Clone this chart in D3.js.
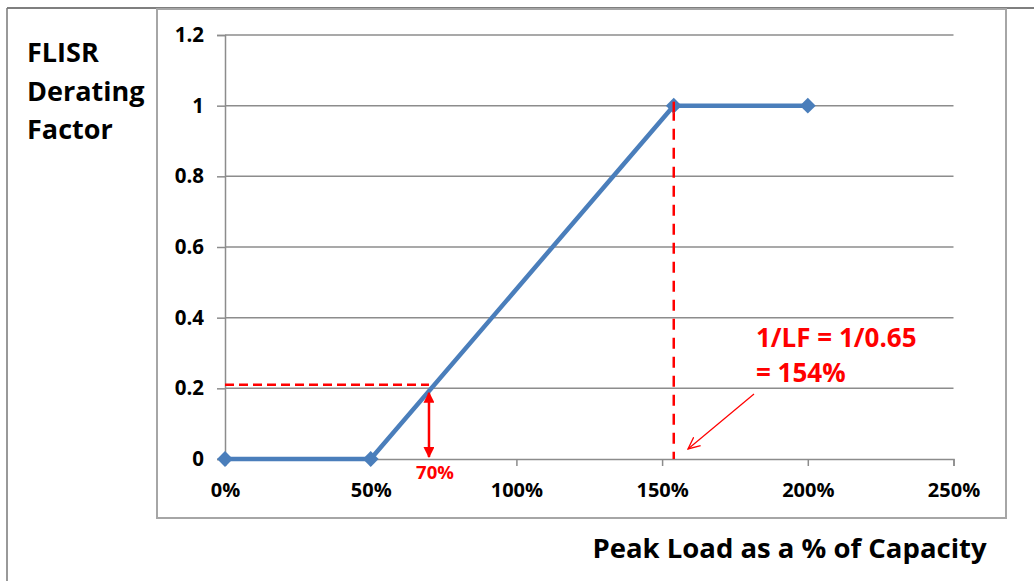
<!DOCTYPE html>
<html>
<head>
<meta charset="utf-8">
<script src="https://cdn.jsdelivr.net/npm/d3@7"></script>
<style>
  html, body { margin: 0; padding: 0; background: #fff; }
  svg { display: block; }
  text { font-family: "Open Sans", Lato, sans-serif; font-weight: 700; }
</style>
</head>
<body>
<svg id="chart" width="1034" height="581"></svg>
<script>
// ---- data ----
const loadPct = [0, 50, 154, 200];          // Peak load as % of capacity
const derating = [0, 0, 1, 1];              // FLISR derating factor
const xTickValues = [0, 50, 100, 150, 200, 250];
const yTickValues = [0, 0.2, 0.4, 0.6, 0.8, 1, 1.2];
const yTickLabels = ["0", "0.2", "0.4", "0.6", "0.8", "1", "1.2"];
const refLoad = 70;          // 70% marker
const refFactor = 0.21;      // horizontal dashed level
const refArrowTop = 0.19;    // factor at 70% on the curve
const lfLoad = 154;          // 1/LF = 154%
const yTitleLines = ["FLISR", "Derating", "Factor"];
const xTitle = "Peak Load as a % of Capacity";
const noteLines = ["1/LF = 1/0.65", "= 154%"];

// ---- layout ----
const svg = d3.select("#chart");
const x = d3.scaleLinear().domain([0, 250]).range([225, 953.5]);
const y = d3.scaleLinear().domain([0, 1.2]).range([459, 35]);
const grid = "#8c8c8c";
const red = "#ff0000";
const blue = "#4a7ebb";
const font = "'Open Sans', Lato, sans-serif";

// outer frame
svg.append("line").attr("x1", 7).attr("x2", 1034).attr("y1", 8).attr("y2", 8)
  .attr("stroke", "#555").attr("stroke-width", 1.5);
svg.append("line").attr("x1", 7).attr("x2", 7).attr("y1", 8).attr("y2", 581)
  .attr("stroke", "#777").attr("stroke-width", 1.5);
// chart box
svg.append("rect").attr("x", 157).attr("y", 9).attr("width", 849).attr("height", 509)
  .attr("fill", "#fff").attr("stroke", "#a6a6a6").attr("stroke-width", 2);

// gridlines
svg.append("g").selectAll("line").data(yTickValues.filter(d => d > 0)).join("line")
  .attr("x1", x(0)).attr("x2", x(250))
  .attr("y1", d => y(d)).attr("y2", d => y(d))
  .attr("stroke", grid).attr("stroke-width", 1.5);

// y axis
const yAxis = d3.axisLeft(y).tickValues(yTickValues)
  .tickFormat((d, i) => yTickLabels[i]).tickSize(8).tickPadding(13);
const gy = svg.append("g").attr("transform", `translate(${x(0)},0)`).call(yAxis);
gy.selectAll("path, line").attr("stroke", grid).attr("stroke-width", 1.5);
gy.selectAll("text").attr("font-size", 20.5).attr("fill", "#000")
  .attr("font-family", font).attr("font-weight", 700);

// x axis
const xAxis = d3.axisBottom(x).tickValues(xTickValues)
  .tickFormat(d => d + "%").tickSize(7).tickSizeOuter(7).tickPadding(17);
const gx = svg.append("g").attr("transform", `translate(0,${y(0)})`).call(xAxis);
gx.selectAll("path, line").attr("stroke", grid).attr("stroke-width", 1.5);
gx.selectAll("text").attr("font-size", 20).attr("fill", "#000")
  .attr("font-family", font).attr("font-weight", 700);

// red dashed horizontal reference
svg.append("line")
  .attr("x1", x(0)).attr("x2", x(refLoad))
  .attr("y1", y(refFactor)).attr("y2", y(refFactor))
  .attr("stroke", red).attr("stroke-width", 2.5).attr("stroke-dasharray", "9,5");

// red dashed vertical at 1/LF
svg.append("line")
  .attr("x1", x(lfLoad)).attr("x2", x(lfLoad))
  .attr("y1", y(1) + 4).attr("y2", y(0))
  .attr("stroke", red).attr("stroke-width", 2.5).attr("stroke-dasharray", "11,8");

// series line
const pts = loadPct.map((d, i) => [d, derating[i]]);
svg.append("path").datum(pts)
  .attr("d", d3.line().x(d => x(d[0])).y(d => y(d[1])))
  .attr("fill", "none").attr("stroke", blue).attr("stroke-width", 4.5)
  .attr("stroke-linejoin", "round");
svg.append("g").selectAll("path").data(pts).join("path")
  .attr("d", d3.symbol(d3.symbolDiamond2, 160))
  .attr("transform", d => `translate(${x(d[0])},${y(d[1])})`)
  .attr("fill", blue);

// red vertical line redrawn over the marker at 1.0
svg.append("line")
  .attr("x1", x(lfLoad)).attr("x2", x(lfLoad))
  .attr("y1", y(1) - 4).attr("y2", y(1) + 7)
  .attr("stroke", red).attr("stroke-width", 2.5);

// double-headed arrow at 70%
const defs = svg.append("defs");
defs.append("marker").attr("id", "ah").attr("viewBox", "0 0 10 10")
  .attr("refX", 9).attr("refY", 5).attr("markerWidth", 4.4).attr("markerHeight", 4.4)
  .attr("orient", "auto-start-reverse")
  .append("path").attr("d", "M0,0 L10,5 L0,10 Z").attr("fill", red);
svg.append("line")
  .attr("x1", x(refLoad)).attr("x2", x(refLoad))
  .attr("y1", y(refArrowTop) + 1).attr("y2", y(0) - 2)
  .attr("stroke", red).attr("stroke-width", 2.5)
  .attr("marker-start", "url(#ah)").attr("marker-end", "url(#ah)");
svg.append("text").attr("x", x(refLoad) + 6).attr("y", 479)
  .attr("text-anchor", "middle").attr("font-size", 18.5).attr("fill", red)
  .text(refLoad + "%");

// note text
svg.append("g").selectAll("text").data(noteLines).join("text")
  .attr("x", 756).attr("y", (d, i) => 347 + i * 35)
  .attr("font-size", 26).attr("fill", red).text(d => d);

// thin pointer arrow
defs.append("marker").attr("id", "open").attr("viewBox", "0 0 12 12")
  .attr("refX", 11).attr("refY", 6).attr("markerWidth", 13).attr("markerHeight", 13)
  .attr("markerUnits", "userSpaceOnUse").attr("orient", "auto")
  .append("path").attr("d", "M0,1 L11,6 L0,11").attr("fill", "none")
  .attr("stroke", red).attr("stroke-width", 1.2);
svg.append("line").attr("x1", 754).attr("y1", 394).attr("x2", 688).attr("y2", 449)
  .attr("stroke", red).attr("stroke-width", 1.2).attr("marker-end", "url(#open)");

// y title
svg.append("g").selectAll("text").data(yTitleLines).join("text")
  .attr("x", 27).attr("y", (d, i) => 62 + i * 38.5)
  .attr("font-size", 27).attr("fill", "#000").text(d => d);

// x title
svg.append("text").attr("x", 789.5).attr("y", 558).attr("text-anchor", "middle")
  .attr("font-size", 27.5).attr("fill", "#000").text(xTitle);
</script>
</body>
</html>
